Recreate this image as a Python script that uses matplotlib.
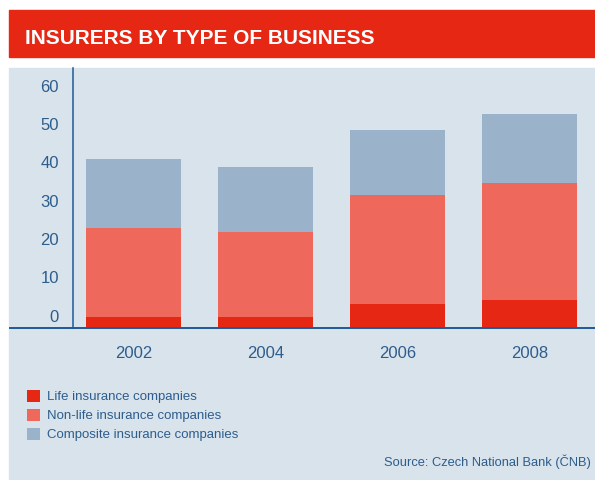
import matplotlib
matplotlib.use("Agg")
import matplotlib.pyplot as plt
from matplotlib.patches import Rectangle
from matplotlib.lines import Line2D

plt.rcParams['font.family'] = ['Liberation Sans', 'DejaVu Sans']

years = ["2002", "2004", "2006", "2008"]
life = [3.0, 3.0, 6.3, 7.4]
non_life = [23.2, 22.1, 28.5, 30.5]
composite = [18.0, 17.0, 16.9, 18.0]
series_names = ["Life insurance companies", "Non-life insurance companies",
                "Composite insurance companies"]
y_ticks = [0, 10, 20, 30, 40, 50, 60]

RED = "#e52713"
SALMON = "#ee695c"
GREYBLUE = "#9ab3ca"
PANEL = "#d9e3ec"
TEXT = "#2d5d8c"
AXIS = "#1f5a96"

W, H = 595, 480
fig = plt.figure(figsize=(W / 100, H / 100), dpi=100)
fig.patch.set_facecolor("white")

# header band and light panel
fig.patches.append(Rectangle((9 / W, 1 - 57 / H), 586 / W, 47 / H,
                             transform=fig.transFigure, color=RED, zorder=-2))
fig.patches.append(Rectangle((9 / W, 0), 586 / W, 1 - 68 / H,
                             transform=fig.transFigure, color=PANEL, zorder=-2))
fig.text(25 / W, 1 - 44 / H, "INSURERS BY TYPE OF BUSINESS", color="white",
         fontsize=15, fontweight="bold", ha="left", va="baseline")

ax = fig.add_axes([72.5 / W, 1 - 328.3 / H, 1 - 72.5 / W, (328.3 - 68) / H])
ax.set_facecolor("none")
ax.set_zorder(1)

x = range(len(years))
bottom2 = [a + b for a, b in zip(life, non_life)]
b1 = ax.bar(x, life, width=0.72, color=RED, label=series_names[0])
b2 = ax.bar(x, non_life, bottom=life, width=0.72, color=SALMON, label=series_names[1])
b3 = ax.bar(x, composite, bottom=bottom2, width=0.72, color=GREYBLUE, label=series_names[2])

ax.set_xlim(-0.462, 3.496)
ax.set_ylim(0, 67.9)

ax.set_xticks(list(x))
ax.set_xticklabels(years, fontsize=12, color=TEXT)
ax.tick_params(axis="x", length=0, pad=12.5)

# y labels sit a little above their gridline in the original
ax.set_yticks([])
for v in y_ticks:
    ax.annotate(str(v), xy=(0, v), xycoords=("axes fraction", "data"),
                xytext=(-13.5, 11), textcoords="offset pixels",
                ha="right", va="center", fontsize=12, color=TEXT)

for s in ["top", "right"]:
    ax.spines[s].set_visible(False)
ax.spines["left"].set_color(AXIS)
ax.spines["left"].set_linewidth(1.1)
ax.spines["bottom"].set_color(AXIS)
ax.spines["bottom"].set_linewidth(1.4)

# bottom rule continues left of the y axis
fig.lines.append(Line2D([10 / W, 72.5 / W], [1 - 328.3 / H] * 2,
                        transform=fig.transFigure, color=AXIS, linewidth=1.4))

leg = fig.legend(handles=[b1, b2, b3], loc="upper left",
                 bbox_to_anchor=(27 / W, 1 - 390 / H), frameon=False,
                 fontsize=9.5, handlelength=0.99, handleheight=0.99,
                 handletextpad=0.5, labelspacing=0.42, borderpad=0,
                 borderaxespad=0)
for t in leg.get_texts():
    t.set_color(TEXT)

fig.text(590.7 / W, 1 - 461.7 / H, "Source: Czech National Bank (ČNB)",
         ha="right", va="center", fontsize=9.25, color=TEXT)

fig.savefig("out.png", dpi=100)
